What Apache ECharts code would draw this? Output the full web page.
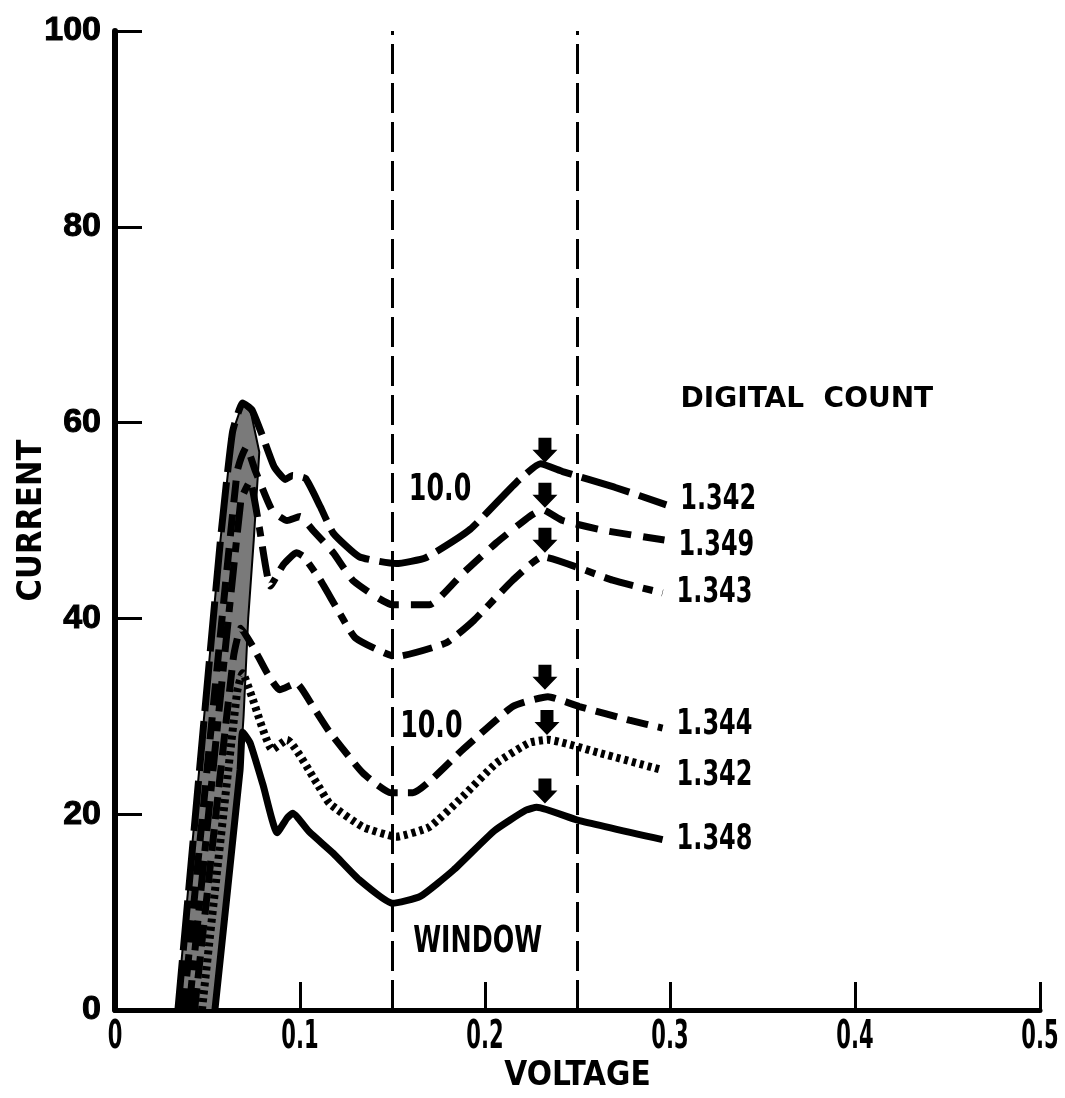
<!DOCTYPE html>
<html>
<head>
<meta charset="utf-8">
<script src="https://cdn.jsdelivr.net/npm/echarts/dist/echarts.min.js"></script>
<style>
  html, body { margin: 0; padding: 0; background: #fff; }
  #main { width: 1065px; height: 1098px; }
</style>
</head>
<body>
<div id="main"></div>
<script>
// ---- data ----
const xTicks = [0, 0.1, 0.2, 0.3, 0.4, 0.5]
const xTickText = ['0', '0.1', '0.2', '0.3', '0.4', '0.5']
const yTicks = [0, 20, 40, 60, 80, 100]

// upper group (10.0)
const aX = [0.034, 0.057, 0.0635, 0.069, 0.074, 0.080, 0.086, 0.092, 0.096, 0.103, 0.111, 0.118, 0.132, 0.152, 0.168, 0.192, 0.217, 0.230, 0.242, 0.270, 0.298]
const aY = [0, 48, 59, 62, 61.3, 58.5, 55.5, 54.2, 54.6, 54.3, 51.4, 48.7, 46.3, 45.6, 46.2, 49.1, 53.9, 55.8, 55.0, 53.4, 51.6]
const bX = [0.037, 0.066, 0.071, 0.076, 0.085, 0.093, 0.100, 0.107, 0.118, 0.129, 0.150, 0.170, 0.188, 0.206, 0.224, 0.231, 0.242, 0.264, 0.297]
const bY = [0, 55, 57.5, 55, 51, 50, 50.4, 49, 46.7, 43.8, 41.4, 41.4, 44.6, 47.7, 50.4, 51.1, 50, 49, 48]
const cX = [0.040, 0.068, 0.073, 0.078, 0.084, 0.091, 0.098, 0.102, 0.111, 0.120, 0.130, 0.152, 0.179, 0.194, 0.215, 0.231, 0.269, 0.296]
const cY = [0, 52, 54, 49.3, 43.3, 45.5, 46.7, 46.3, 43.9, 41, 38, 36.1, 37.5, 39.8, 43.9, 46.3, 43.9, 42.6]

// lower group (10.0)
const dX = [0.043, 0.064, 0.068, 0.0746, 0.082, 0.089, 0.098, 0.107, 0.116, 0.134, 0.149, 0.161, 0.188, 0.215, 0.234, 0.251, 0.278, 0.296]
const dY = [0, 36, 39, 37.1, 34.5, 32.7, 33.4, 31, 28.4, 24.2, 22.2, 22.2, 26.6, 31, 32, 31, 29.6, 28.8]
const eX = [0.047, 0.066, 0.069, 0.074, 0.085, 0.093, 0.109, 0.116, 0.134, 0.152, 0.170, 0.188, 0.206, 0.224, 0.234, 0.261, 0.296]
const eY = [0, 32.5, 34.4, 32, 26.6, 27.6, 23.2, 21.1, 18.7, 17.7, 18.7, 21.8, 25.2, 27.3, 27.6, 26.3, 24.5]
const fX = [0.054, 0.0676, 0.069, 0.073, 0.080, 0.0876, 0.093, 0.096, 0.105, 0.118, 0.132, 0.150, 0.165, 0.183, 0.205, 0.222, 0.228, 0.250, 0.296]
const fY = [0, 24.5, 28.4, 27.3, 23, 18.1, 19.6, 20.1, 18.2, 16, 13.3, 10.9, 11.6, 14.3, 18.3, 20.4, 20.7, 19.4, 17.4]

const counts = ['1.342', '1.349', '1.343', '1.344', '1.342', '1.348']

// shaded band where the rising edges overlap
const bandX = [0.0335, 0.057, 0.0635, 0.069, 0.0735, 0.078, 0.075, 0.072, 0.0695, 0.0676, 0.054]
const bandY = [0, 48, 59, 62, 61, 57, 48, 40, 30, 24.5, 0]

// arrows marking the second peak
const arrowX = [0.2324, 0.2324, 0.2324, 0.2324, 0.2335, 0.2324]
const arrowY = [55.9, 51.3, 46.7, 32.7, 28.1, 21.1]

// window limits
const windowX = [0.15, 0.25]

// free text
const noteText = ['10.0', '10.0', 'WINDOW']
const noteX = [0.1757, 0.171, 0.196]
const noteY = [53.1, 28.9, 6.9]
const headText = ['DIGITAL  COUNT']
const headX = [0.374]
const headY = [62.3]

const cond = '"DejaVu Sans Condensed", "DejaVu Sans", sans-serif'

function pairs(xs, ys) {
  return xs.map((x, i) => [x, ys[i]])
}

const curves = [
  { x: aX, y: aY, dash: [50, 10], width: 7, dy: -5 },
  { x: bX, y: bY, dash: [22, 12], width: 7, dy: 6 },
  { x: cX, y: cY, dash: [30, 10, 10, 10], width: 7, dy: 0 },
  { x: dX, y: dY, dash: [22, 10], width: 7, dy: -3 },
  { x: eX, y: eY, dash: [4, 4], width: 8, dy: 5 },
  { x: fX, y: fY, dash: 'solid', width: 7, dy: 0 }
]

// text drawn through the axes, squeezed to look like the condensed lettering
function textSeries(data, texts, opt) {
  return {
    type: 'custom',
    silent: true,
    z: 6,
    data: data,
    renderItem: function (params, api) {
      const p = api.coord([api.value(0), api.value(1)])
      const i = params.dataIndex
      const dy = typeof opt.dy === 'function' ? opt.dy(i) : (opt.dy || 0)
      return {
        type: 'text',
        x: p[0] + (opt.dx || 0),
        y: p[1] + dy,
        scaleX: opt.scaleX,
        style: {
          text: texts[i],
          fill: '#000',
          font: 'bold ' + opt.size + 'px ' + opt.family,
          align: opt.align || 'center',
          verticalAlign: opt.valign || 'middle'
        }
      }
    }
  }
}

const myChart = echarts.init(document.getElementById('main'))

const series = []

series.push({
  type: 'custom',
  silent: true,
  z: 1,
  data: [0],
  renderItem: function (params, api) {
    const pts = bandX.map((x, i) => api.coord([x, bandY[i]]))
    return {
      type: 'polygon',
      shape: { points: pts },
      style: { fill: '#7a7a7a', stroke: '#000', lineWidth: 2 }
    }
  }
})

curves.forEach((c, i) => {
  series.push({
    name: counts[i],
    type: 'line',
    z: 3,
    data: pairs(c.x, c.y),
    smooth: 0.15,
    showSymbol: false,
    silent: true,
    lineStyle: { color: '#000', width: c.width, type: c.dash, cap: 'butt' },
    markLine: i === 0 ? {
      silent: true,
      symbol: 'none',
      label: { show: false },
      lineStyle: { color: '#000', width: 3, type: [30, 9] },
      data: windowX.map(v => ({ xAxis: v }))
    } : undefined
  })
})

series.push({
  type: 'scatter',
  z: 5,
  silent: true,
  symbol: 'path://M-6.5,0 L6.5,0 L6.5,12 L12.5,12 L0,25 L-12.5,12 L-6.5,12 Z',
  symbolSize: [25, 25],
  symbolOffset: [0, -12.5],
  itemStyle: { color: '#000', opacity: 1 },
  data: pairs(arrowX, arrowY)
})

// digital count at the end of each curve
series.push(textSeries(
  curves.map(c => [c.x[c.x.length - 1], c.y[c.y.length - 1]]),
  counts,
  { size: 36, family: cond, scaleX: 0.74, align: 'left', dx: 14, dy: i => curves[i].dy }
))

series.push(textSeries(pairs(noteX, noteY), noteText, {
  size: 37, family: cond, scaleX: 0.76
}))

series.push(textSeries(pairs(headX, headY), headText, {
  size: 28, family: '"DejaVu Sans", sans-serif', scaleX: 1
}))

// x tick labels
series.push(textSeries(xTicks.map(v => [v, 0]), xTickText, {
  size: 39, family: cond, scaleX: 0.6, valign: 'top', dy: 8
}))

const option = {
  animation: false,
  backgroundColor: '#fff',
  grid: { left: 115, top: 31, width: 925, height: 979, containLabel: false, outerBoundsMode: 'none' },
  xAxis: {
    type: 'value',
    min: xTicks[0],
    max: xTicks[xTicks.length - 1],
    interval: 0.1,
    name: 'VOLTAGE',
    nameLocation: 'middle',
    nameGap: 50,
    nameMoveOverlap: false,
    nameTextStyle: { color: '#000', fontFamily: cond, fontWeight: 'bold', fontSize: 33 },
    axisLine: { lineStyle: { color: '#000', width: 5 } },
    axisTick: { inside: true, length: 28, lineStyle: { color: '#000', width: 3 } },
    axisLabel: { show: false },
    splitLine: { show: false }
  },
  yAxis: {
    type: 'value',
    min: yTicks[0],
    max: yTicks[yTicks.length - 1],
    interval: 20,
    name: 'CURRENT',
    nameLocation: 'middle',
    nameGap: 66,
    nameRotate: 90,
    nameMoveOverlap: false,
    nameTextStyle: { color: '#000', fontFamily: cond, fontWeight: 'bold', fontSize: 34 },
    axisLine: { lineStyle: { color: '#000', width: 6 } },
    axisTick: { inside: true, length: 27, lineStyle: { color: '#000', width: 3 } },
    axisLabel: {
      color: '#000', fontFamily: '"Liberation Sans", sans-serif', fontWeight: 'bold', fontSize: 34,
      margin: 14, textBorderColor: '#000', textBorderWidth: 1
    },
    splitLine: { show: false }
  },
  series: series
}

myChart.setOption(option)
</script>
</body>
</html>
